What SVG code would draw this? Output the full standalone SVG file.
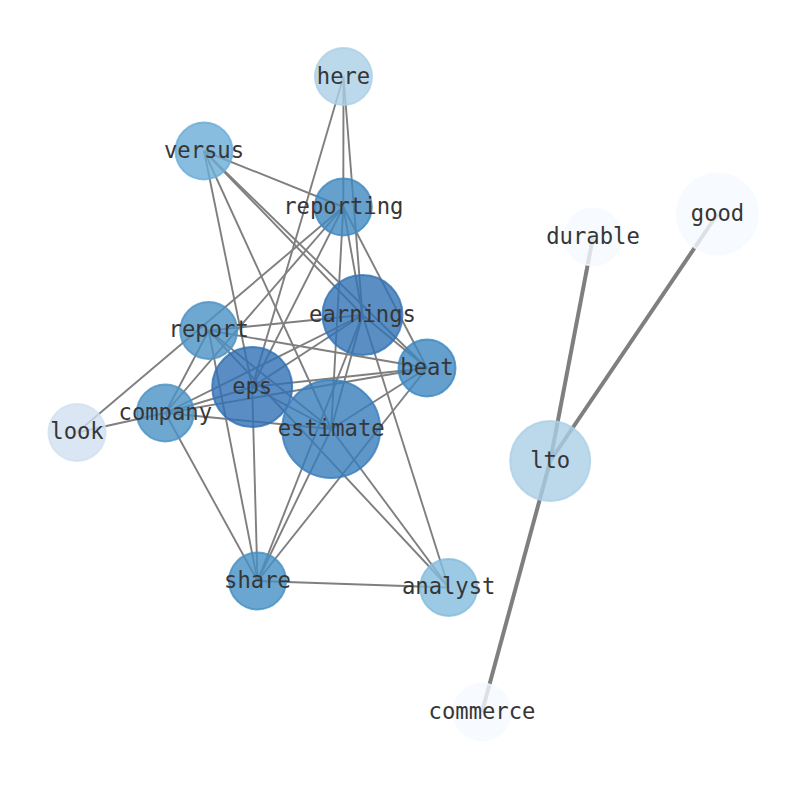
<svg xmlns="http://www.w3.org/2000/svg" width="794" height="790" viewBox="0 0 794 790">
<style>
.e{stroke:#7f7f7f;stroke-width:1.9;fill:none;stroke-linecap:butt}
.w{stroke-width:4}
.n circle{fill-opacity:0.8;stroke-opacity:0.8;stroke-width:2}
.n text{font-family:"DejaVu Sans Mono","Liberation Mono",monospace;font-size:22.2px;fill:#363636;text-anchor:middle}
</style>
<rect width="794" height="790" fill="#ffffff"/>
<g id="edges">
<line class="e" x1="343.5" y1="76.5" x2="343.3" y2="207"/>
<line class="e" x1="343.5" y1="76.5" x2="362.5" y2="315"/>
<line class="e" x1="343.5" y1="76.5" x2="252.2" y2="387"/>
<line class="e" x1="204" y1="151" x2="343.3" y2="207"/>
<line class="e" x1="204" y1="151" x2="252.2" y2="387"/>
<line class="e" x1="204" y1="151" x2="331.2" y2="429"/>
<line class="e" x1="204" y1="151" x2="362.5" y2="315"/>
<line class="e" x1="204" y1="151" x2="427" y2="368"/>
<line class="e" x1="343.3" y1="207" x2="77" y2="432.5"/>
<line class="e" x1="343.3" y1="207" x2="165.3" y2="413"/>
<line class="e" x1="343.3" y1="207" x2="252.2" y2="387"/>
<line class="e" x1="343.3" y1="207" x2="331.2" y2="429"/>
<line class="e" x1="343.3" y1="207" x2="362.5" y2="315"/>
<line class="e" x1="343.3" y1="207" x2="427" y2="368"/>
<line class="e" x1="362.5" y1="315" x2="208.7" y2="330.5"/>
<line class="e" x1="362.5" y1="315" x2="165.3" y2="413"/>
<line class="e" x1="362.5" y1="315" x2="252.2" y2="387"/>
<line class="e" x1="362.5" y1="315" x2="331.2" y2="429"/>
<line class="e" x1="362.5" y1="315" x2="427" y2="368"/>
<line class="e" x1="362.5" y1="315" x2="257.5" y2="581"/>
<line class="e" x1="362.5" y1="315" x2="448.7" y2="587.5"/>
<line class="e" x1="208.7" y1="330.5" x2="165.3" y2="413"/>
<line class="e" x1="208.7" y1="330.5" x2="427" y2="368"/>
<line class="e" x1="208.7" y1="330.5" x2="331.2" y2="429"/>
<line class="e" x1="208.7" y1="330.5" x2="448.7" y2="587.5"/>
<line class="e" x1="208.7" y1="330.5" x2="257.5" y2="581"/>
<line class="e" x1="252.2" y1="387" x2="165.3" y2="413"/>
<line class="e" x1="252.2" y1="387" x2="427" y2="368"/>
<line class="e" x1="252.2" y1="387" x2="331.2" y2="429"/>
<line class="e" x1="252.2" y1="387" x2="257.5" y2="581"/>
<line class="e" x1="165.3" y1="413" x2="77" y2="432.5"/>
<line class="e" x1="165.3" y1="413" x2="427" y2="368"/>
<line class="e" x1="165.3" y1="413" x2="331.2" y2="429"/>
<line class="e" x1="165.3" y1="413" x2="257.5" y2="581"/>
<line class="e" x1="331.2" y1="429" x2="427" y2="368"/>
<line class="e" x1="331.2" y1="429" x2="257.5" y2="581"/>
<line class="e" x1="331.2" y1="429" x2="448.7" y2="587.5"/>
<line class="e" x1="427" y1="368" x2="257.5" y2="581"/>
<line class="e" x1="257.5" y1="581" x2="448.7" y2="587.5"/>
<line class="e w" x1="550.2" y1="461" x2="593" y2="237"/>
<line class="e w" x1="550.2" y1="461" x2="717.5" y2="214"/>
<line class="e w" x1="550.2" y1="461" x2="482" y2="712"/>
</g>
<g id="node-here" class="n"><circle cx="343.5" cy="76.5" r="28.5" fill="#abcfe6" stroke="#abcfe6"/><text x="343.5" y="83.5">here</text></g>
<g id="node-versus" class="n"><circle cx="204" cy="151" r="28.5" fill="#6aacd8" stroke="#6aacd8"/><text x="204" y="157.5">versus</text></g>
<g id="node-reporting" class="n"><circle cx="343.3" cy="207" r="28.5" fill="#4088bf" stroke="#4088bf"/><text x="343.3" y="213.5">reporting</text></g>
<g id="node-durable" class="n"><circle cx="593" cy="237" r="28.5" fill="#f5faff" stroke="#f5faff"/><text x="593" y="243.5">durable</text></g>
<g id="node-good" class="n"><circle cx="717.5" cy="214" r="40.5" fill="#f5faff" stroke="#f5faff"/><text x="717.5" y="220.5">good</text></g>
<g id="node-earnings" class="n"><circle cx="362.5" cy="315" r="40" fill="#3273b5" stroke="#3273b5"/><text x="362.5" y="321.5">earnings</text></g>
<g id="node-report" class="n"><circle cx="208.7" cy="330.5" r="28.5" fill="#4a92c6" stroke="#4a92c6"/><text x="208.7" y="337">report</text></g>
<g id="node-beat" class="n"><circle cx="427" cy="368" r="28.5" fill="#3d87c0" stroke="#3d87c0"/><text x="427" y="374.5">beat</text></g>
<g id="node-eps" class="n"><circle cx="252.2" cy="387" r="40" fill="#3170b4" stroke="#3170b4"/><text x="252.2" y="393.5">eps</text></g>
<g id="node-company" class="n"><circle cx="165.3" cy="413" r="28.5" fill="#4a92c6" stroke="#4a92c6"/><text x="165.3" y="419.5">company</text></g>
<g id="node-look" class="n"><circle cx="77" cy="432.5" r="28.5" fill="#d1e0f0" stroke="#d1e0f0"/><text x="77" y="439">look</text></g>
<g id="node-estimate" class="n"><circle cx="331.2" cy="429" r="49" fill="#387dbb" stroke="#387dbb"/><text x="331.2" y="435.5">estimate</text></g>
<g id="node-lto" class="n"><circle cx="550.2" cy="461" r="40" fill="#abcfe6" stroke="#abcfe6"/><text x="550.2" y="467.5">lto</text></g>
<g id="node-share" class="n"><circle cx="257.5" cy="581" r="28.5" fill="#4590c4" stroke="#4590c4"/><text x="257.5" y="587.5">share</text></g>
<g id="node-analyst" class="n"><circle cx="448.7" cy="587.5" r="28.5" fill="#83bbdc" stroke="#83bbdc"/><text x="448.7" y="594">analyst</text></g>
<g id="node-commerce" class="n"><circle cx="482" cy="712" r="28.5" fill="#f5faff" stroke="#f5faff"/><text x="482" y="718.5">commerce</text></g>
</svg>
